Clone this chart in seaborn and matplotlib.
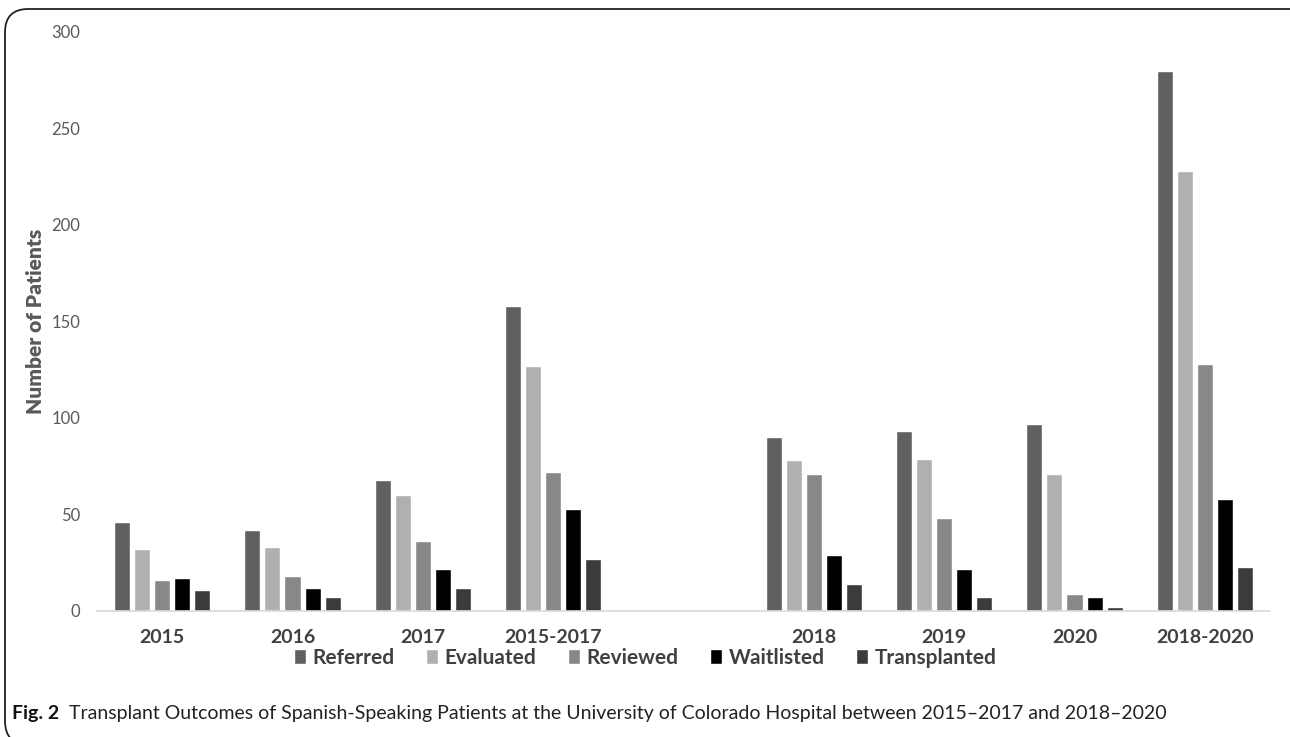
import pandas as pd
import matplotlib.pyplot as plt
import seaborn as sns
from matplotlib.patches import FancyBboxPatch

# Data
periods = ['2015', '2016', '2017', '2015-2017', '2018', '2019', '2020', '2018-2020']
referred = [46, 42, 68, 158, 90, 93, 97, 280]
evaluated = [32, 33, 60, 127, 78, 79, 71, 228]
reviewed = [16, 18, 36, 72, 71, 48, 9, 128]
waitlisted = [17, 12, 22, 53, 29, 22, 7, 58]
transplanted = [11, 7, 12, 27, 14, 7, 2, 23]

stages = ['Referred', 'Evaluated', 'Reviewed', 'Waitlisted', 'Transplanted']
colors = ['#606060', '#b0b0b0', '#888888', '#000000', '#3b3b3b']
# empty slot between the two periods
slot_order = periods[:4] + [' '] + periods[4:]


def build_frame():
    rows = []
    for stage, vals in zip(stages, [referred, evaluated, reviewed, waitlisted, transplanted]):
        for p, v in zip(periods, vals):
            rows.append({'period': p, 'stage': stage, 'count': v})
    return pd.DataFrame(rows)


def main():
    df = build_frame()
    sns.set_style('white')
    plt.rcParams['font.family'] = ['Lato', 'DejaVu Sans']

    fig = plt.figure(figsize=(12.9, 7.37), dpi=100)
    ax = fig.add_axes([0.0752, 0.171, 0.9093, 0.7856])

    sns.barplot(data=df, x='period', y='count', hue='stage', order=slot_order,
                hue_order=stages, palette=colors, saturation=1, width=0.77,
                gap=0.2, ax=ax)

    handles, labels = ax.get_legend_handles_labels()
    ax.get_legend().remove()

    ax.set_ylim(0, 300)
    ax.set_yticks(range(0, 301, 50))
    ax.set_xlim(-0.5, len(slot_order) - 0.5)
    ax.set_xlabel('')
    ax.set_ylabel('Number of Patients', fontsize=15, color='#595959',
                  fontweight='heavy')
    ax.yaxis.set_label_coords(-0.044, 0.5)
    ax.tick_params(axis='y', length=0, labelsize=12, labelcolor='#595959', pad=12)
    ax.tick_params(axis='x', length=0, labelsize=14, labelcolor='#404040', pad=13)
    for lbl in ax.get_xticklabels():
        lbl.set_fontweight('bold')
    for side in ['left', 'right', 'top']:
        ax.spines[side].set_visible(False)
    ax.spines['bottom'].set_color('#d9d9d9')
    ax.spines['bottom'].set_linewidth(1.2)

    fig.legend(handles, labels, loc='center', bbox_to_anchor=(0.5, 1 - 658 / 737),
               ncol=5, frameon=False, handlelength=0.6, handleheight=0.7,
               handletextpad=0.3, columnspacing=1.5,
               prop={'weight': 'bold', 'size': 15})
    for t in fig.legends[0].get_texts():
        t.set_color('#404040')

    # caption
    fig_w, fig_h = 1290, 737
    y_cap = 1 - 713 / fig_h
    t1 = fig.text(12 / fig_w, y_cap, 'Fig. 2', fontsize=14, fontweight='bold',
                  va='center', ha='left', color='#111111')
    fig.canvas.draw()
    bb = t1.get_window_extent()
    fig.text((bb.x1 + 10) / fig_w, y_cap,
             'Transplant Outcomes of Spanish-Speaking Patients at the University of '
             'Colorado Hospital between 2015\u20132017 and 2018\u20132020',
             fontsize=14, va='center', ha='left', color='#222222')

    # rounded frame around the figure
    frame = FancyBboxPatch((5 / fig_w, -0.01), 1.02, 1 - 9 / fig_h + 0.01,
                           boxstyle='round,pad=0,rounding_size=0.018',
                           transform=fig.transFigure, fill=False,
                           edgecolor='#222222', linewidth=1.3,
                           mutation_aspect=fig_w / fig_h)
    fig.patches.append(frame)

    fig.savefig('out.png', dpi=100)
    plt.close(fig)


if __name__ == '__main__':
    main()
